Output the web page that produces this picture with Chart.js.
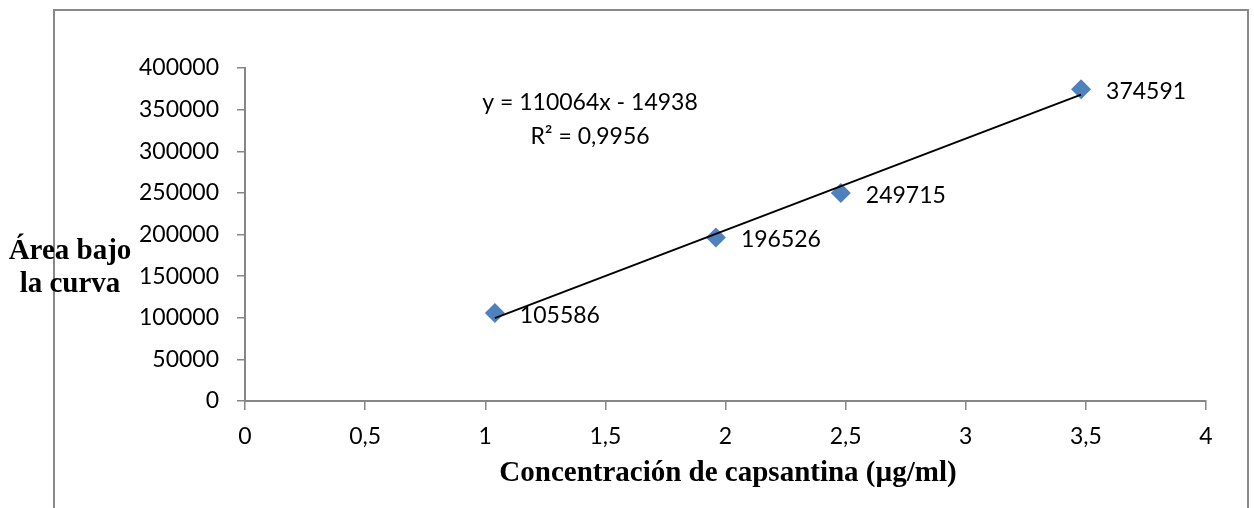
<!DOCTYPE html>
<html>
<head>
<meta charset="utf-8">
<script src="https://cdn.jsdelivr.net/npm/chart.js@4/dist/chart.umd.min.js"></script>
<style>
  html, body { margin: 0; padding: 0; background: #fff; overflow: hidden; }
  #wrap { position: relative; width: 1254px; height: 508px; }
  #frame { position: absolute; left: 53px; top: 9px; width: 1192px; height: 530px; border: 2px solid #898989; }
  canvas { position: absolute; left: 0; top: 0; }
</style>
</head>
<body>
<div id="wrap">
  <div id="frame"></div>
  <canvas id="chart" width="1254" height="508"></canvas>
</div>
<script>
// datos de la curva de calibracion
const concentracion = [1.04, 1.96, 2.48, 3.48]
const area = [105586, 196526, 249715, 374591]

// linea de tendencia (Excel)
const pendiente = 110064
const intercepto = -14938
const ecuacion = 'y = 110064x - 14938'
const r2Texto = 'R² = 0,9956'

const tituloX = 'Concentración de capsantina (µg/ml)'
const tituloY = ['Área bajo', 'la curva']

const puntos = concentracion.map((x, i) => ({ x: x, y: area[i] }))
const xs = [concentracion[0], concentracion[concentracion.length - 1]]
const tendencia = xs.map(x => ({ x: x, y: pendiente * x + intercepto }))

const fuente = 'Lato, "Open Sans", sans-serif'
const gris = '#868686'

const etiquetas = {
    id: 'etiquetas',
    afterDatasetsDraw(chart) {
        const ctx = chart.ctx
        const meta = chart.getDatasetMeta(1)
        ctx.save()
        ctx.fillStyle = '#000'
        ctx.font = '23px ' + fuente
        ctx.textBaseline = 'middle'
        ctx.textAlign = 'left'
        meta.data.forEach((pt, i) => {
            ctx.fillText(String(area[i]), pt.x + 25, pt.y + 2)
        })

        // ecuacion
        ctx.textAlign = 'center'
        ctx.fillText(ecuacion, 590, 103)
        ctx.fillText(r2Texto, 590, 137)

        // titulos de ejes
        ctx.font = 'bold 29px "Liberation Serif", "Times New Roman", serif'
        ctx.fillText(tituloY[0], 70, 252)
        ctx.fillText(tituloY[1], 70, 285)
        ctx.fillText(tituloX, 728, 474)
        ctx.restore()
    }
}

new Chart(document.getElementById('chart'), {
    type: 'scatter',
    data: {
        datasets: [
            {
                type: 'line',
                data: tendencia,
                borderColor: '#000',
                borderWidth: 2,
                pointRadius: 0,
                fill: false,
                order: 0
            },
            {
                data: puntos,
                pointStyle: 'rectRot',
                pointRadius: 10,
                pointHoverRadius: 10,
                backgroundColor: '#4F81BD',
                borderColor: '#4F81BD',
                borderWidth: 0,
                order: 1
            }
        ]
    },
    options: {
        responsive: false,
        animation: false,
        layout: {
            padding: { left: 0, top: 68, right: 48, bottom: 0 }
        },
        plugins: {
            legend: { display: false },
            tooltip: { enabled: false }
        },
        scales: {
            x: {
                type: 'linear',
                min: 0,
                max: 4,
                afterFit(scale) { scale.height = 107 },
                border: { color: gris, width: 2 },
                grid: { drawOnChartArea: false, drawTicks: true, tickLength: 9, color: gris, lineWidth: 1.5 },
                ticks: {
                    stepSize: 0.5,
                    padding: 13,
                    color: '#000',
                    font: { family: fuente, size: 23 },
                    callback: v => String(v).replace('.', ',')
                }
            },
            y: {
                min: 0,
                max: 400000,
                afterFit(scale) { scale.width = 245 },
                border: { color: gris, width: 2 },
                grid: { drawOnChartArea: false, drawTicks: true, tickLength: 8, color: gris, lineWidth: 1.5 },
                ticks: {
                    stepSize: 50000,
                    padding: 18,
                    color: '#000',
                    font: { family: fuente, size: 23 },
                    callback: v => String(v)
                }
            }
        }
    },
    plugins: [etiquetas]
})
</script>
</body>
</html>
